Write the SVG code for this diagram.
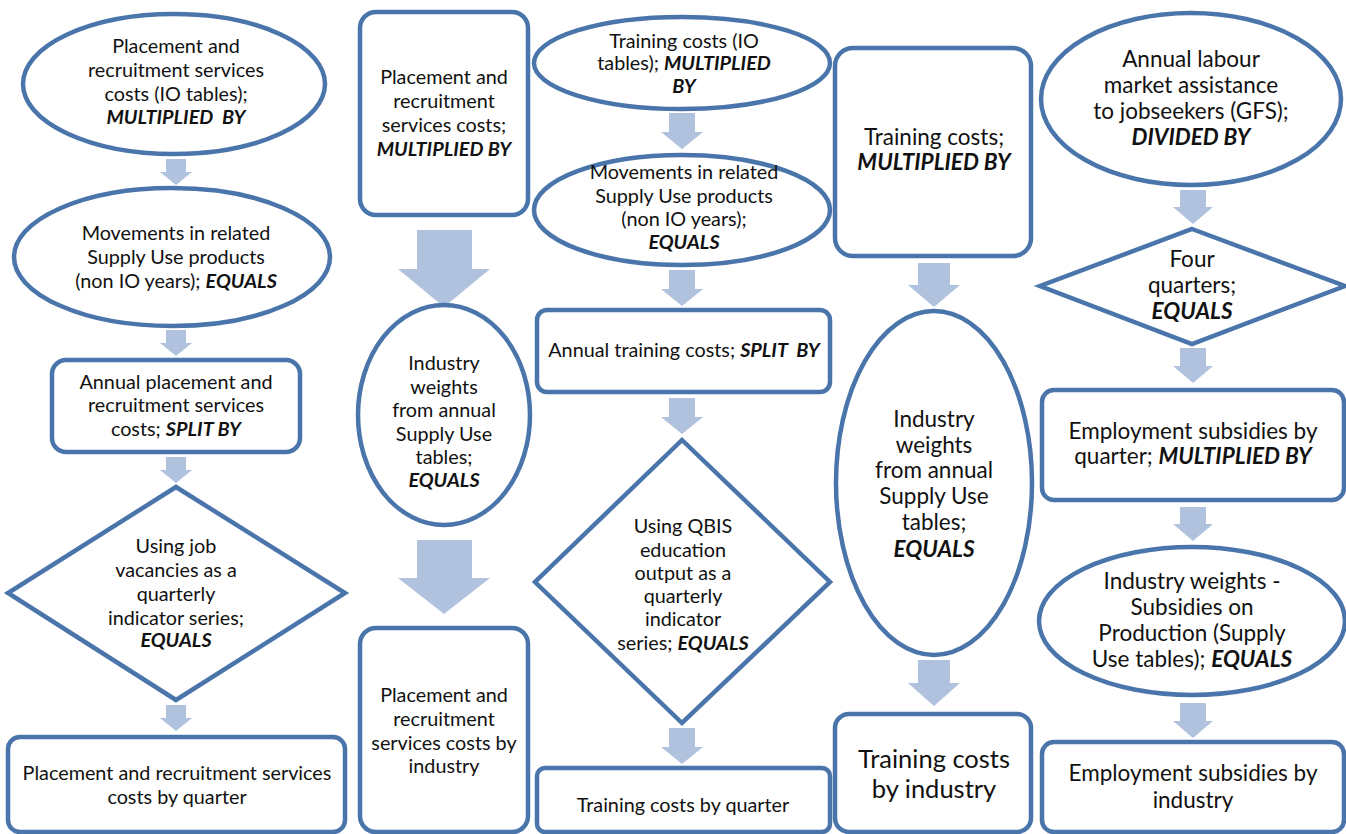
<svg xmlns="http://www.w3.org/2000/svg" width="1346" height="834" viewBox="0 0 1346 834">
<style>
.n{fill:#fff;stroke:#4a75ab;stroke-width:4.5}
.a{fill:#b0c2de;stroke:none}
text{font-family:Lato,"Liberation Sans",sans-serif;font-size:19.8px;fill:#111;text-anchor:middle}
.l{font-size:22.5px}
.xl{font-size:25.5px}
.b{font-weight:bold;font-style:italic}
</style>
<rect width="1346" height="834" fill="#fff"/>
<g id="connectors">
<path class="a" d="M166,159H186V172H192L176,185L160,172H166Z"/>
<path class="a" d="M166,330H186V343H192L176,356L160,343H166Z"/>
<path class="a" d="M166,457H186V470H192L176,483L160,470H166Z"/>
<path class="a" d="M166,705H186V718H192L176,731L160,718H166Z"/>
<path class="a" d="M417,230H472V269H490L444,307L398,269H417Z"/>
<path class="a" d="M417,540H472V578H490L444,614L398,578H417Z"/>
<path class="a" d="M669,113H695V132H703L682,149L661,132H669Z"/>
<path class="a" d="M669,270H695V289H703L682,306L661,289H669Z"/>
<path class="a" d="M669,398H695V417H703L682,434L661,417H669Z"/>
<path class="a" d="M669,728H695V747H703L682,764L661,747H669Z"/>
<path class="a" d="M918,263H950V285H960L934,307L908,285H918Z"/>
<path class="a" d="M918,660H950V683H960L934,706L908,683H918Z"/>
<path class="a" d="M1180,190H1206V207H1213L1193,224L1173,207H1180Z"/>
<path class="a" d="M1180,348H1206V366H1213L1193,383L1173,366H1180Z"/>
<path class="a" d="M1180,507H1206V524H1213L1193,541L1173,524H1180Z"/>
<path class="a" d="M1180,703H1206V721H1213L1193,738L1173,721H1180Z"/>
</g>
<g id="n1">
<ellipse class="n" cx="174" cy="84" rx="151" ry="70"/>
<text><tspan x="176" y="53">Placement and</tspan><tspan x="176" y="77">recruitment services</tspan><tspan x="176" y="101">costs (IO tables);</tspan><tspan x="176" y="124" class="b">MULTIPLIED&#160; BY</tspan></text>
</g>
<g id="n2">
<ellipse class="n" cx="172" cy="257" rx="158" ry="69"/>
<text><tspan x="176" y="240">Movements in related</tspan><tspan x="176" y="264">Supply Use products</tspan><tspan x="176" y="288">(non IO years); <tspan class="b">EQUALS</tspan></tspan></text>
</g>
<g id="n3">
<rect class="n" x="52" y="360" width="248" height="92" rx="14"/>
<text><tspan x="176" y="389">Annual placement and</tspan><tspan x="176" y="412">recruitment services</tspan><tspan x="176" y="436">costs; <tspan class="b">SPLIT BY</tspan></tspan></text>
</g>
<g id="n4">
<polygon class="n" points="176,487 345,593 176,700 8,593"/>
<text><tspan x="176" y="553">Using job</tspan><tspan x="176" y="577">vacancies as a</tspan><tspan x="176" y="601">quarterly</tspan><tspan x="176" y="625">indicator series;</tspan><tspan x="176" y="647" class="b">EQUALS</tspan></text>
</g>
<g id="n5">
<rect class="n" x="8" y="737" width="337" height="95" rx="12"/>
<text><tspan x="177" y="780">Placement and recruitment services</tspan><tspan x="177" y="804">costs by quarter</tspan></text>
</g>
<g id="n6">
<rect class="n" x="360" y="12" width="168" height="203" rx="16"/>
<text><tspan x="444" y="84">Placement and</tspan><tspan x="444" y="108">recruitment</tspan><tspan x="444" y="132">services costs;</tspan><tspan x="444" y="156" class="b">MULTIPLIED BY</tspan></text>
</g>
<g id="n7">
<ellipse class="n" cx="444" cy="415" rx="86" ry="110"/>
<text><tspan x="444" y="370">Industry</tspan><tspan x="444" y="394">weights</tspan><tspan x="444" y="417">from annual</tspan><tspan x="444" y="441">Supply Use</tspan><tspan x="444" y="464">tables;</tspan><tspan x="444" y="487" class="b">EQUALS</tspan></text>
</g>
<g id="n8">
<rect class="n" x="360" y="628" width="168" height="204" rx="16"/>
<text><tspan x="444" y="702">Placement and</tspan><tspan x="444" y="726">recruitment</tspan><tspan x="444" y="750">services costs by</tspan><tspan x="444" y="773">industry</tspan></text>
</g>
<g id="n9">
<ellipse class="n" cx="682" cy="63" rx="148" ry="46"/>
<text><tspan x="684" y="48">Training costs (IO</tspan><tspan x="684" y="70">tables); <tspan class="b">MULTIPLIED</tspan></tspan><tspan x="684" y="93" class="b">BY</tspan></text>
</g>
<g id="n10">
<ellipse class="n" cx="682" cy="210" rx="148" ry="55"/>
<text><tspan x="684" y="179">Movements in related</tspan><tspan x="684" y="203">Supply Use products</tspan><tspan x="684" y="226">(non IO years);</tspan><tspan x="684" y="249" class="b">EQUALS</tspan></text>
</g>
<g id="n11">
<rect class="n" x="537" y="310" width="293" height="82" rx="10"/>
<text><tspan x="684" y="357">Annual training costs; <tspan class="b">SPLIT&#160; BY</tspan></tspan></text>
</g>
<g id="n12">
<polygon class="n" points="682,440 830,582 682,723 535,582"/>
<text><tspan x="683" y="533">Using QBIS</tspan><tspan x="683" y="557">education</tspan><tspan x="683" y="580">output as a</tspan><tspan x="683" y="603">quarterly</tspan><tspan x="683" y="626">indicator</tspan><tspan x="683" y="650">series; <tspan class="b">EQUALS</tspan></tspan></text>
</g>
<g id="n13">
<rect class="n" x="537" y="768" width="293" height="64" rx="8"/>
<text><tspan x="683" y="812">Training costs by quarter</tspan></text>
</g>
<g id="n14">
<rect class="n" x="835" y="48" width="196" height="208" rx="18"/>
<text class="l"><tspan x="934" y="145">Training costs;</tspan><tspan x="934" y="170" class="b">MULTIPLIED BY</tspan></text>
</g>
<g id="n15">
<ellipse class="n" cx="934" cy="483" rx="98" ry="172"/>
<text class="l"><tspan x="934" y="427">Industry</tspan><tspan x="934" y="453">weights</tspan><tspan x="934" y="478">from annual</tspan><tspan x="934" y="504">Supply Use</tspan><tspan x="934" y="530">tables;</tspan><tspan x="934" y="557" class="b">EQUALS</tspan></text>
</g>
<g id="n16">
<rect class="n" x="835" y="714" width="196" height="118" rx="14"/>
<text class="xl"><tspan x="934" y="768">Training costs</tspan><tspan x="934" y="798">by industry</tspan></text>
</g>
<g id="n17">
<ellipse class="n" cx="1191" cy="99" rx="150" ry="86"/>
<text class="l"><tspan x="1191" y="67">Annual labour</tspan><tspan x="1191" y="93">market assistance</tspan><tspan x="1191" y="119">to jobseekers (GFS);</tspan><tspan x="1191" y="145" class="b">DIVIDED BY</tspan></text>
</g>
<g id="n18">
<polygon class="n" points="1192,229 1345,286 1192,344 1040,286"/>
<text class="l"><tspan x="1192" y="267">Four</tspan><tspan x="1192" y="293">quarters;</tspan><tspan x="1192" y="319" class="b">EQUALS</tspan></text>
</g>
<g id="n19">
<rect class="n" x="1042" y="390" width="302" height="110" rx="12"/>
<text class="l"><tspan x="1193" y="439">Employment subsidies by</tspan><tspan x="1193" y="464">quarter; <tspan class="b">MULTIPLIED BY</tspan></tspan></text>
</g>
<g id="n20">
<ellipse class="n" cx="1192" cy="621" rx="153" ry="74"/>
<text class="l"><tspan x="1192" y="589">Industry weights -</tspan><tspan x="1192" y="615">Subsidies on</tspan><tspan x="1192" y="641">Production (Supply</tspan><tspan x="1192" y="667">Use tables); <tspan class="b">EQUALS</tspan></tspan></text>
</g>
<g id="n21">
<rect class="n" x="1042" y="742" width="302" height="90" rx="12"/>
<text class="l"><tspan x="1193" y="781">Employment subsidies by</tspan><tspan x="1193" y="808">industry</tspan></text>
</g>
</svg>
